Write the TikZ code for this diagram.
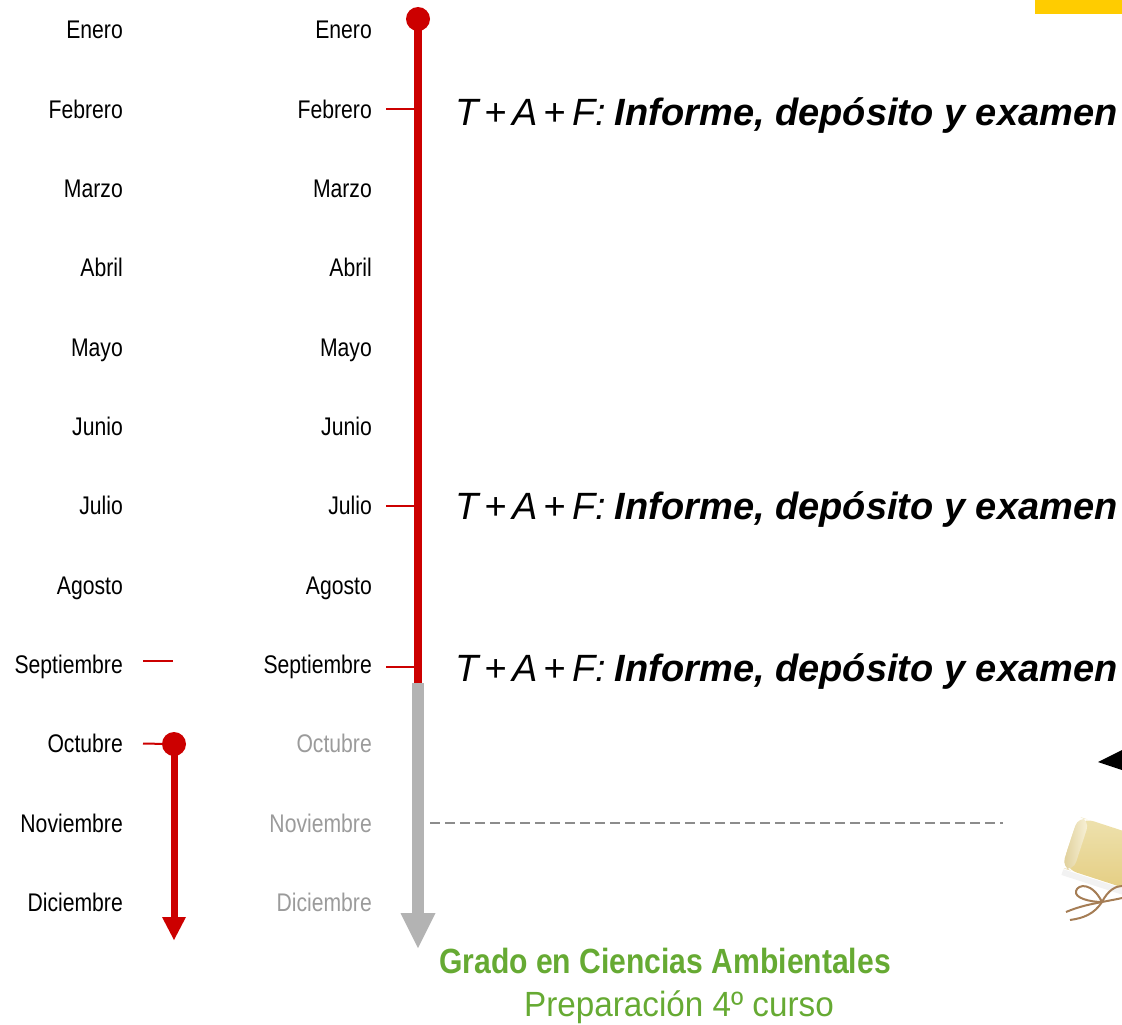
\documentclass[tikz,border=0pt]{standalone}
\usepackage{fontspec}
\setmainfont{Liberation Sans}[FakeStretch=0.83]
\newfontfamily\taffont{Liberation Sans}
\newfontfamily\titlefont{Liberation Sans}[FakeStretch=0.86]
\newfontfamily\subfont{Liberation Sans}[FakeStretch=0.95]
\usetikzlibrary{arrows.meta}
\definecolor{lineRed}{RGB}{204,0,0}
\definecolor{arrowGrey}{RGB}{179,179,179}
\definecolor{textGrey}{RGB}{155,155,155}
\definecolor{dashGrey}{RGB}{140,140,140}
\definecolor{titleGreen}{RGB}{102,170,51}
\definecolor{tabYellow}{RGB}{255,204,0}
\definecolor{stringBrown}{RGB}{165,125,85}
\newcommand{\taf}{{\itshape T\kern6pt+\kern6pt A\kern6pt+\kern6pt F:}\kern9pt{\bfseries\itshape Informe, depósito y examen}}

\begin{document}
\begin{tikzpicture}[x=1pt,y=-1pt,
    month/.style={anchor=base east,inner sep=0,font=\fontsize{25.5}{30}\selectfont},
    monthtick/.style={lineRed,line width=2pt},
    taf/.style={anchor=base west,inner sep=0,font=\taffont\fontsize{38}{44}\selectfont},
    reddot/.style={circle,fill=lineRed,inner sep=0,minimum size=24pt}]
  \useasboundingbox (0,0) rectangle (1122,1025);
  \fill[tabYellow] (1035,0) rectangle (1122,14);

  \foreach \m [count=\i from 0] in {Enero,Febrero,Marzo,Abril,Mayo,Junio,Julio,Agosto,Septiembre,Octubre,Noviembre,Diciembre}
    \node[month] (l\i) at (123,39+\i*79.3) {\m};
  \foreach \m/\c [count=\i from 0] in {Enero/black,Febrero/black,Marzo/black,Abril/black,Mayo/black,Junio/black,Julio/black,Agosto/black,Septiembre/black,Octubre/textGrey,Noviembre/textGrey,Diciembre/textGrey}
    \node[month,text=\c] (r\i) at (372,39+\i*79.3) {\m};

  \coordinate (start) at (418,19);
  \coordinate (sep) at (418,683);
  \coordinate (stop) at (418,948);
  \draw[arrowGrey,line width=12pt,-{Triangle[width=35pt,length=35pt,line width=0pt]}] (sep) -- (stop);
  \draw[lineRed,line width=8.5pt] (start) -- (sep);
  \node[reddot] (topdot) at (start) {};
  \foreach \i in {1,6,8}
    \draw[monthtick] ([xshift=14pt]r\i.east) -- (r\i.east -| start);

  \node[taf] (taf1) at (455,125) {\taf};
  \node[taf] (taf2) at (455,519) {\taf};
  \node[taf] (taf3) at (455,681) {\taf};

  \coordinate (oct) at (174,744);
  \coordinate (dec) at (174,940);
  \draw[lineRed,line width=7pt,-{Triangle[width=24pt,length=23pt,line width=0pt]}] (oct) -- (dec);
  \node[reddot] (octdot) at (oct) {};
  \draw[monthtick] ([xshift=20pt,yshift=6pt]l8.east) -- +(30,0);
  \draw[monthtick] ([xshift=20pt]l9.east) -- (octdot);

  \coordinate (roll) at (1003,823);
  \draw[dashGrey,line width=1.5pt,dash pattern=on 10pt off 5pt] ([xshift=58pt]r10.east) -- (r10.east -| roll);

  \fill[black] (1098,762) -- (1122,750) -- (1122,770) -- cycle;
  \begin{scope}[shift={(1070,842)},rotate=-18]
    \fill[black!5] (2,28) rectangle (140,34);
    \shade[top color={rgb,255:red,238;green,226;blue,175},middle color={rgb,255:red,253;green,250;blue,236},
      bottom color={rgb,255:red,226;green,200;blue,118},rounded corners=16pt] (0,-27) rectangle (140,27);
    \shade[left color={rgb,255:red,222;green,205;blue,150},right color={rgb,255:red,250;green,244;blue,220},rounded corners=10pt]
      (0,-27) rectangle (12,27);
  \end{scope}
  \draw[stringBrown,line width=2pt] (1066,912) .. controls (1080,906) and (1092,904) .. (1102,902)
    .. controls (1112,900) and (1118,899) .. (1122,898);
  \draw[stringBrown,line width=2pt] (1102,902) .. controls (1092,882) and (1078,884) .. (1076,891)
    .. controls (1074,898) and (1090,902) .. (1102,902);
  \draw[stringBrown,line width=2pt] (1102,902) .. controls (1094,914) and (1084,918) .. (1070,920);
  \draw[stringBrown,line width=2pt] (1102,902) .. controls (1108,890) and (1116,886) .. (1122,886);

  \node[anchor=base,inner sep=0,text=titleGreen,font=\titlefont\bfseries\fontsize{35}{40}\selectfont] (title) at (665,973) {Grado en Ciencias Ambientales};
  \node[anchor=base,inner sep=0,text=titleGreen,font=\subfont\fontsize{35}{40}\selectfont] (subtitle) at (679,1016) {Preparación 4º curso};
\end{tikzpicture}
\end{document}
